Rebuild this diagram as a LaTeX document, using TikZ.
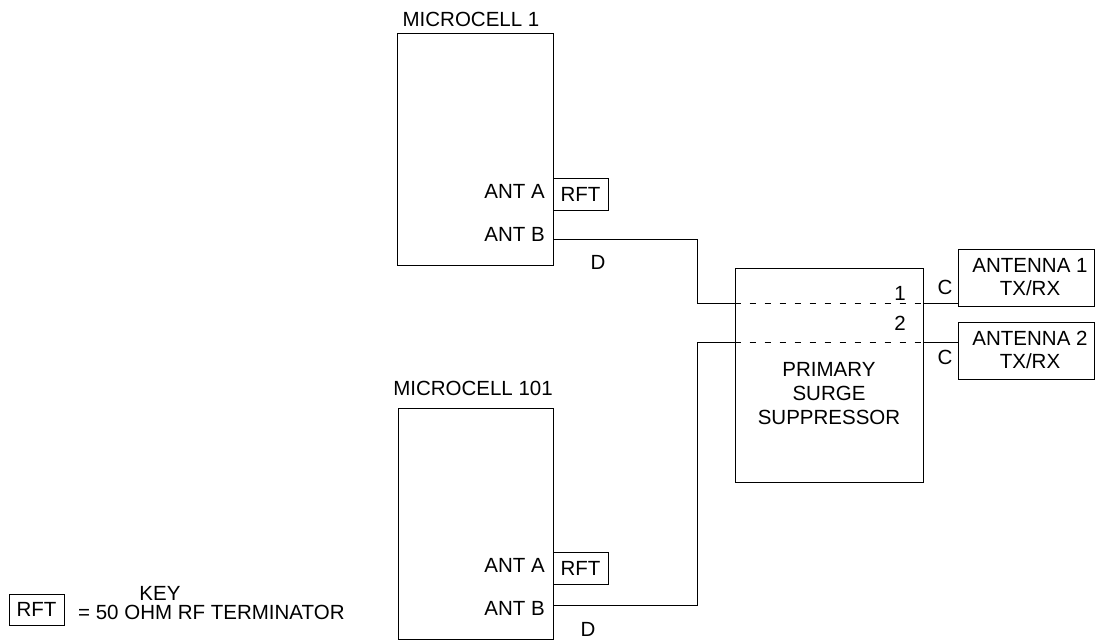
\documentclass[tikz,border=0pt]{standalone}
\usepackage{fontspec}
\setmainfont{Liberation Sans}
\begin{document}
\begin{tikzpicture}[x=1pt,y=-1pt,
  every node/.style={font=\fontsize{20.5}{23.5}\selectfont, inner sep=0pt},
  box/.style={draw, line width=1pt, minimum width=#1},
  wire/.style={line width=1pt},
  dashwire/.style={line width=1pt, dash pattern=on 6pt off 9pt}]
\useasboundingbox (0,0) rectangle (1095,640);

% microcell 1
\node[box=156pt, minimum height=232pt] (mc1) at (475,149) {};
\node (mc1lbl) at (471,19) {MICROCELL 1};
\node[anchor=east] (mc1a) at (545,191) {ANT A};
\node[anchor=east] (mc1b) at (545,234) {ANT B};
\node[box=55pt, minimum height=32pt] (rft1) at (580.5,194) {RFT};
\node (d1) at (598,262) {D};

% microcell 101
\node[box=155pt, minimum height=231pt] (mc2) at (475.5,523.5) {};
\node (mc2lbl) at (473,388) {MICROCELL 101};
\node[anchor=east] (mc2a) at (545,565) {ANT A};
\node[anchor=east] (mc2b) at (545,608) {ANT B};
\node[box=55pt, minimum height=32pt] (rft2) at (580.5,568) {RFT};
\node (d2) at (588,629) {D};

% surge suppressor
\node[box=188pt, minimum height=214pt] (surge) at (829,375) {};
\node[align=center, font=\fontsize{20.5}{24}\selectfont] (surgelbl) at (829,394) {PRIMARY\\SURGE\\SUPPRESSOR};
\node (n1) at (900,293) {1};
\node (n2) at (900,323) {2};

% antennas
\node[box=136pt, minimum height=57pt] (ant1) at (1026,277.5) {};
\node[align=center] (ant1lbl) at (1030,277) {ANTENNA 1\\TX/RX};
\node[box=136pt, minimum height=57pt] (ant2) at (1026,350.5) {};
\node[align=center] (ant2lbl) at (1030,350) {ANTENNA 2\\TX/RX};
\node (c1) at (945,287) {C};
\node (c2) at (945,357) {C};

% key
\node (keylbl) at (160,593) {KEY};
\node[box=55pt, minimum height=31pt] (rftkey) at (36.5,609.5) {RFT};
\node[anchor=west] (keytxt) at (78,612) {= 50 OHM RF TERMINATOR};

% connector coordinates
\coordinate (y1) at (0,303);
\coordinate (y2) at (0,342);
\coordinate (j1) at (697,239);
\coordinate (j2) at (697,605);

% line 1 (microcell 1 -> antenna 1)
\draw[wire] (mc1.east |- j1) -- (j1) |- (surge.west |- y1);
\draw[dashwire] (surge.west |- y1) -- (surge.east |- y1);
\draw[wire] (surge.east |- y1) -- (ant1.west |- y1);

% line 2 (microcell 101 -> antenna 2)
\draw[wire] (mc2.east |- j2) -- (j2) |- (surge.west |- y2);
\draw[dashwire] (surge.west |- y2) -- (surge.east |- y2);
\draw[wire] (surge.east |- y2) -- (ant2.west |- y2);
\end{tikzpicture}
\end{document}
